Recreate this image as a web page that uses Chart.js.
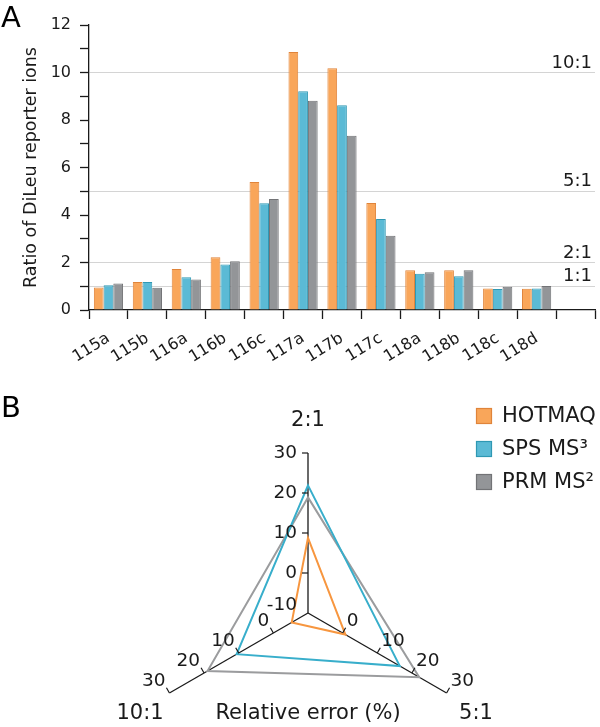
<!DOCTYPE html>
<html>
<head>
<meta charset="utf-8">
<script src="https://cdn.jsdelivr.net/npm/chart.js@4.4.1/dist/chart.umd.min.js"></script>
<style>
  html, body { margin: 0; padding: 0; background: #fff; overflow: hidden; }
  #wrap { position: relative; width: 600px; height: 727px; }
  canvas { position: absolute; left: 0; }
  #barChart { top: 0; }
  #radarChart { top: 350px; }
</style>
</head>
<body>
<div id="wrap">
  <canvas id="barChart" width="600" height="380"></canvas>
  <canvas id="radarChart" width="600" height="377"></canvas>
</div>
<script>
// panel A - ratio of DiLeu reporter ions per channel
const channels = ['115a', '115b', '116a', '116b', '116c', '117a', '117b', '117c', '118a', '118b', '118c', '118d'];
const hotmaqRatio = [0.95, 1.18, 1.73, 2.22, 5.39, 10.86, 10.18, 4.51, 1.67, 1.67, 0.91, 0.90];
const spsRatio = [1.04, 1.18, 1.38, 1.92, 4.49, 9.21, 8.62, 3.83, 1.53, 1.42, 0.88, 0.91];
const prmRatio = [1.12, 0.94, 1.28, 2.05, 4.67, 8.81, 7.34, 3.13, 1.59, 1.67, 0.98, 1.01];
const expectedRatios = [1, 2, 5, 10];
const expectedLabels = ['1:1', '2:1', '5:1', '10:1'];

// panel B - relative error (%) at each mixing ratio
const mixRatios = ['2:1', '5:1', '10:1'];
const hotmaqError = [8.8, 0.8, -5.3];
const spsError = [21.9, 16.5, 10.6];
const prmError = [18.9, 22.1, 19.0];
const errorTicks = [-10, 0, 10, 20, 30];

const methods = ['HOTMAQ', 'SPS MS³', 'PRM MS²'];

const fills = ['#f9a65a', '#5bbad5', '#939598'];
const edges = ['#e0843a', '#2f98b3', '#727376'];
const lines = ['#f7963f', '#38aecb', '#9b9c9e'];
const ink = '#1a1a1a';
const FONT = '"DejaVu Sans"';

Chart.defaults.font.family = 'DejaVu Sans';
Chart.defaults.color = ink;

function panelLetter(letter, baseline) {
  return {
    id: 'letter' + letter,
    afterDraw(chart) {
      const ctx = chart.ctx;
      ctx.save();
      ctx.font = '29px ' + FONT;
      ctx.fillStyle = '#000';
      ctx.textAlign = 'left';
      ctx.textBaseline = 'alphabetic';
      ctx.fillText(letter, 1, baseline);
      ctx.restore();
    }
  };
}

// the 1:1, 2:1 ... labels over the expected-ratio lines
const ratioLabels = {
  id: 'ratioLabels',
  afterDraw(chart) {
    const {ctx, chartArea, scales: {y}} = chart;
    ctx.save();
    ctx.font = '18px ' + FONT;
    ctx.fillStyle = ink;
    ctx.textAlign = 'right';
    ctx.textBaseline = 'alphabetic';
    expectedRatios.forEach((v, i) => {
      ctx.fillText(expectedLabels[i], chartArea.right - 3, y.getPixelForValue(v) - 5);
    });
    ctx.restore();
  }
};

new Chart(document.getElementById('barChart'), {
  type: 'bar',
  data: {
    labels: channels.concat(['']),
    datasets: [hotmaqRatio, spsRatio, prmRatio].map((d, i) => ({
      label: methods[i],
      data: d,
      backgroundColor: fills[i],
      borderColor: edges[i],
      borderWidth: 1,
      categoryPercentage: 0.75,
      barPercentage: 1.0
    }))
  },
  options: {
    responsive: false,
    animation: false,
    layout: { padding: { top: 25, right: 5, left: 0, bottom: 0 } },
    plugins: { legend: { display: false }, tooltip: { enabled: false } },
    scales: {
      x: {
        grid: {
          offset: true,
          drawOnChartArea: false,
          tickLength: 9,
          tickWidth: 1.3,
          tickColor: c => c.index > channels.length ? 'rgba(0,0,0,0)' : ink
        },
        border: { color: ink, width: 1.3 },
        ticks: { font: { size: 16 }, minRotation: 32, maxRotation: 32, padding: 10, autoSkip: false },
        afterFit: s => { s.height = 70; }
      },
      y: {
        min: 0,
        max: 12,
        ticks: { stepSize: 1, font: { size: 16 }, padding: 9, callback: v => (v % 2 === 0 ? v : '') },
        grid: {
          tickLength: 9,
          tickColor: ink,
          tickWidth: 1.3,
          lineWidth: 1,
          color: c => (c.tick && expectedRatios.includes(c.tick.value) ? '#d4d4d4' : 'rgba(0,0,0,0)')
        },
        border: { color: ink, width: 1.3 },
        title: {
          display: true,
          text: 'Ratio of DiLeu reporter ions',
          font: { size: 17.5 },
          padding: { top: 21, bottom: 0 }
        },
        afterFit: s => { s.width = 89; }
      }
    }
  },
  plugins: [ratioLabels, panelLetter('A', 27)]
});

// tick marks + numbers on every spoke, spoke names, axis title
const radarAxes = {
  id: 'radarAxes',
  afterDraw(chart) {
    const ctx = chart.ctx;
    const r = chart.scales.r;
    ctx.save();
    ctx.strokeStyle = ink;
    ctx.fillStyle = ink;
    ctx.lineWidth = 1.2;
    mixRatios.forEach((name, i) => {
      const c = r.getPointPositionForValue(i, r.min);
      const e = r.getPointPositionForValue(i, r.max);
      const len = Math.hypot(e.x - c.x, e.y - c.y);
      const ux = (e.x - c.x) / len, uy = (e.y - c.y) / len;
      let px = uy, py = -ux;
      if (py > 0.01) { px = -px; py = -py; }
      ctx.font = '18.5px ' + FONT;
      errorTicks.forEach(v => {
        const p = r.getPointPositionForValue(i, v);
        if (v > r.min) {
          ctx.beginPath();
          ctx.moveTo(p.x, p.y);
          ctx.lineTo(p.x + px * 6, p.y + py * 6);
          ctx.stroke();
        }
        if (i === 0) {
          ctx.textAlign = 'right';
          ctx.textBaseline = 'middle';
          ctx.fillText(String(v), p.x - 11, v === r.min ? p.y - 8 : p.y);
        } else if (v > r.min) {
          ctx.textAlign = ux > 0 ? 'left' : 'right';
          ctx.textBaseline = 'alphabetic';
          ctx.fillText(String(v), p.x + (ux > 0 ? 4 : -4), p.y - 7);
        }
      });
      const q = r.getPointPositionForValue(i, r.max + 8.5);
      ctx.font = '21px ' + FONT;
      ctx.textAlign = 'center';
      ctx.textBaseline = 'middle';
      ctx.fillText(name, q.x, q.y + (i === 0 ? 2 : 4));
    });
    const q = r.getPointPositionForValue(1, r.max + 8.5);
    ctx.font = '21px ' + FONT;
    ctx.textAlign = 'center';
    ctx.textBaseline = 'middle';
    ctx.fillText('Relative error (%)', r.xCenter, q.y + 4);
    ctx.restore();
  }
};

const radarLegend = {
  id: 'radarLegend',
  afterDraw(chart) {
    const ctx = chart.ctx;
    ctx.save();
    ctx.font = '21px ' + FONT;
    ctx.textAlign = 'left';
    ctx.textBaseline = 'middle';
    chart.data.datasets.forEach((ds, i) => {
      const y = 58 + i * 33;
      ctx.fillStyle = fills[i];
      ctx.fillRect(476, y, 16, 16);
      ctx.strokeStyle = edges[i];
      ctx.lineWidth = 1.2;
      ctx.strokeRect(476.5, y + 0.5, 15, 15);
      ctx.fillStyle = ink;
      ctx.fillText(ds.label, 502, y + 9);
    });
    ctx.restore();
  }
};

new Chart(document.getElementById('radarChart'), {
  type: 'radar',
  data: {
    labels: mixRatios,
    datasets: [hotmaqError, spsError, prmError].map((d, i) => ({
      label: methods[i],
      data: d,
      borderColor: lines[i],
      backgroundColor: fills[i],
      fill: false,
      borderWidth: 2,
      pointRadius: 0,
      tension: 0
    }))
  },
  options: {
    responsive: false,
    animation: false,
    plugins: { legend: { display: false }, tooltip: { enabled: false } },
    scales: {
      r: {
        min: -10,
        max: 30,
        startAngle: 0,
        ticks: { display: false, stepSize: 10 },
        grid: { display: false },
        angleLines: { display: true, color: ink, lineWidth: 1.3 },
        pointLabels: { display: false },
        afterFit: s => { s.xCenter = 308; s.yCenter = 263; s.drawingArea = 160; }
      }
    }
  },
  plugins: [radarAxes, radarLegend, panelLetter('B', 67)]
});
</script>
</body>
</html>
